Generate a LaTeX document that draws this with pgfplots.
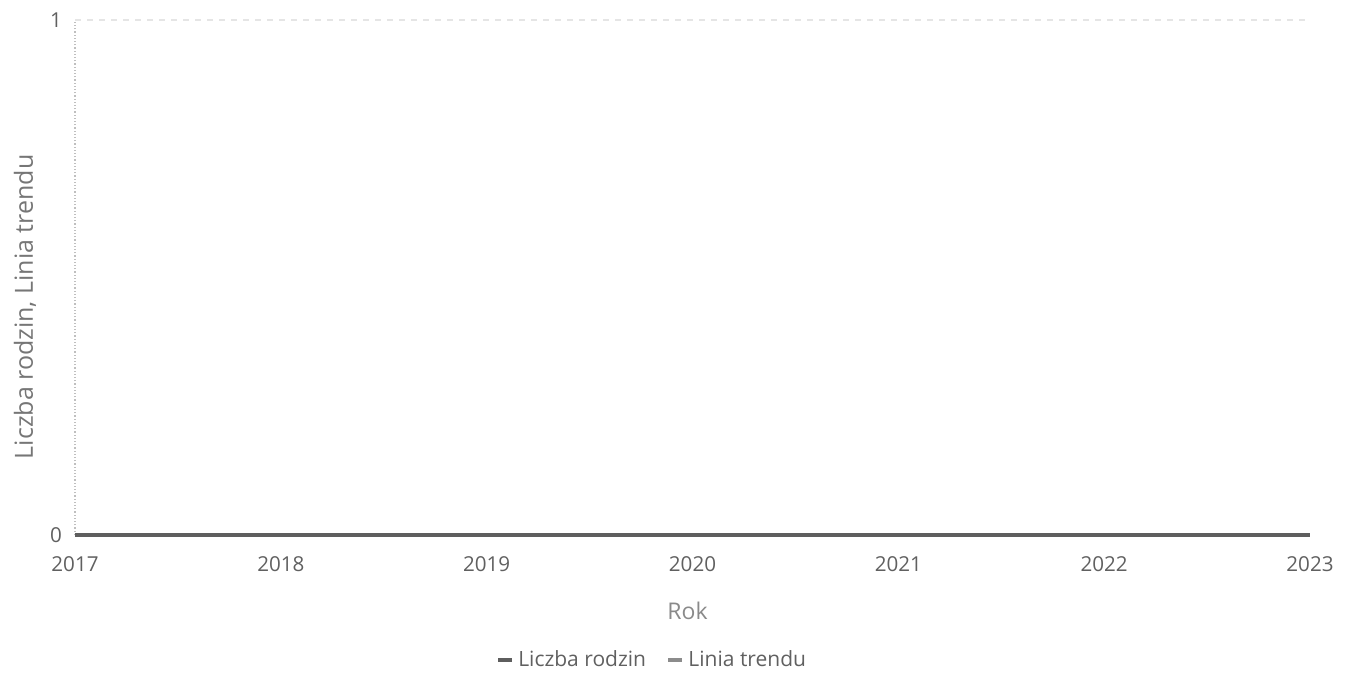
\documentclass[border=0pt]{standalone}
\usepackage{fontspec}
\setmainfont{Open Sans}
\usepackage{pgfplots}
\pgfplotsset{compat=1.18}
\definecolor{tickgray}{HTML}{606060}
\definecolor{titlegray}{HTML}{8A8A8A}
\definecolor{ylabgray}{HTML}{767676}
\definecolor{lineA}{HTML}{5E5E5E}
\definecolor{lineB}{HTML}{8C8C8C}
\begin{document}
\begin{tikzpicture}
\begin{axis}[
  at={(0,0)}, anchor=south west,
  scale only axis,
  width=617.5pt, height=257.5pt,
  xmin=2017, xmax=2023, ymin=0, ymax=1,
  xtick={2017,2018,2019,2020,2021,2022,2023},
  xticklabels={2017,2018,2019,2020,2021,2022,2023},
  ytick={0,1},
  axis x line*=bottom,
  axis y line*=left,
  x axis line style={draw=none},
  y axis line style={draw=black!25, densely dotted, line width=0.6pt},
  major tick length=0pt,
  ymajorgrids,
  grid style={draw=black!10, dashed, line width=0.8pt},
  tick label style={font=\fontsize{10.3}{12}\selectfont, text=tickgray},
  /pgf/number format/assume math mode=true,
  xticklabel style={yshift=-7pt},
  yticklabel style={xshift=-3pt},
  xlabel={Rok},
  ylabel={Liczba rodzin, Linia trendu},
  xlabel style={font=\fontsize{11.5}{13}\selectfont, text=titlegray,
    at={(axis description cs:0.496,0)}, anchor=center, yshift=-38pt},
  ylabel style={font=\fontsize{12.5}{14}\selectfont, text=ylabgray,
    at={(axis description cs:-0.0405,0.443)}, anchor=center, rotate=0},
  legend style={draw=none, fill=none, at={(axis description cs:0.468,0)},
    anchor=center, yshift=-62.5pt, legend columns=2,
    font=\fontsize{10.5}{12}\selectfont, text=tickgray,
    /tikz/every even column/.append style={column sep=8pt}},
  legend cell align=left,
  legend image code/.code={\draw[#1, line width=2.2pt] (0pt,0pt) -- (7pt,0pt);},
  clip=false,
]
\addlegendimage{lineA}
\addlegendentry{Liczba rodzin}
\addlegendimage{lineB}
\addlegendentry{Linia trendu}
\addplot[lineB, line width=0.8pt, forget plot] coordinates {(2017,0) (2018,0) (2019,0) (2020,0) (2021,0) (2022,0) (2023,0)};
\addplot[lineA, line width=2pt, forget plot] coordinates {(2017,0) (2018,0) (2019,0) (2020,0) (2021,0) (2022,0) (2023,0)};
\end{axis}
\pgfresetboundingbox
\path[use as bounding box] (-37.5pt,-69.5pt) rectangle (635pt,267.5pt);
\end{tikzpicture}
\end{document}
